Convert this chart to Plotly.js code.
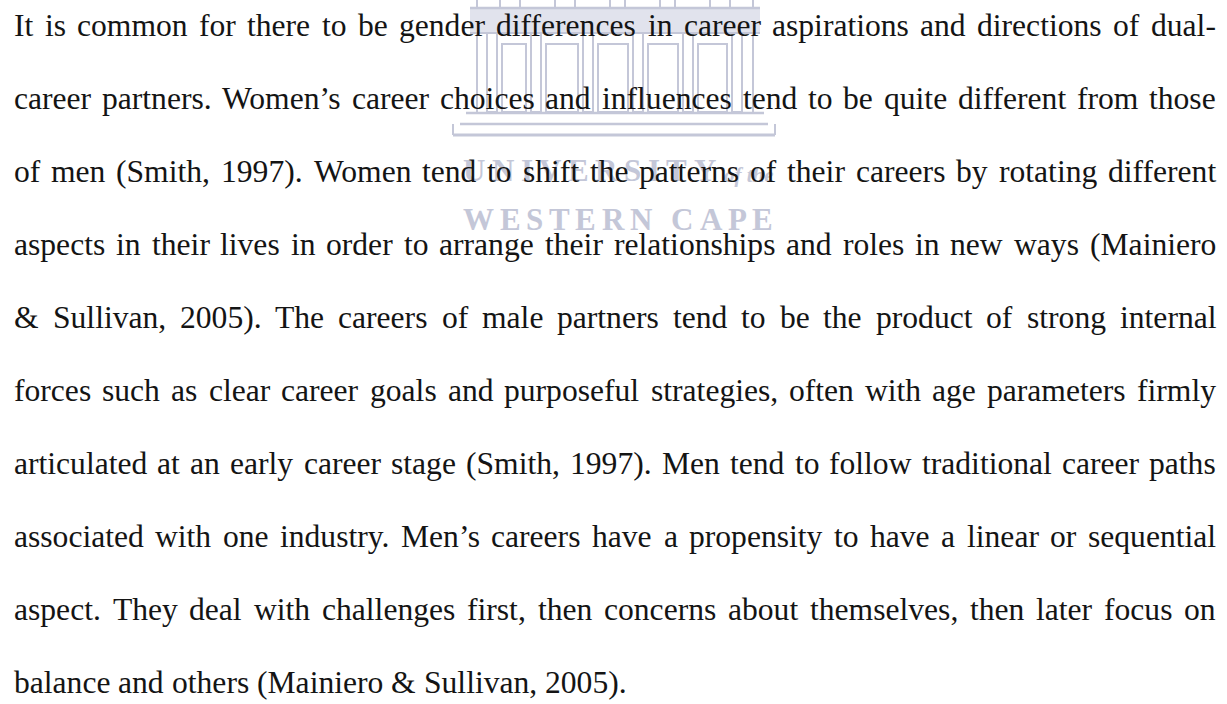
<!DOCTYPE html>
<html>
<head>
<meta charset="utf-8">
<script src="https://cdn.plot.ly/plotly-3.0.1.min.js"></script>
<style>html,body{margin:0;padding:0;background:#fff;}#chart{width:1227px;height:704px;}</style>
</head>
<body>
<div id="chart"></div>
<script>
// ---- content (text lines of the page) ----
const paragraphLines = [
  "It is common for there to be gender differences in career aspirations and directions of dual-",
  "career partners. Women’s career choices and influences tend to be quite different from those",
  "of men (Smith, 1997). Women tend to shift the patterns of their careers by rotating different",
  "aspects in their lives in order to arrange their relationships and roles in new ways (Mainiero",
  "& Sullivan, 2005). The careers of male partners tend to be the product of strong internal",
  "forces such as clear career goals and purposeful strategies, often with age parameters firmly",
  "articulated at an early career stage (Smith, 1997). Men tend to follow traditional career paths",
  "associated with one industry. Men’s careers have a propensity to have a linear or sequential",
  "aspect. They deal with challenges first, then concerns about themselves, then later focus on",
  "balance and others (Mainiero & Sullivan, 2005)."
];
const watermarkLine1 = "UNIVERSITY";
const watermarkLine1b = "of the";
const watermarkLine2 = "WESTERN CAPE";

// ---- style / layout constants ----
const W = 1227, H = 704;
const FONT = "Liberation Serif";
const FS = 31.6;
const LEFT = 14, RIGHT = 1216;
const FIRST_Y = 28, STEP = 73;
const TEXT_COLOR = "#141414";
const WM = "#c4c7d8";
const WM_FILL = "#e1e3ed";

const cv = document.createElement("canvas").getContext("2d");
function measure(t, size, style, weight) {
  cv.font = (style || "normal") + " " + (weight || "normal") + " " + size + "px '" + FONT + "'";
  return cv.measureText(t).width;
}
function esc(t) { return t.replace(/&/g, "&amp;"); }

const annotations = [];
const shapes = [];

// ---- watermark text (letter-spaced) ----
function spaced(text, x0, x1, yc, size) {
  const chars = text.split("");
  const widths = chars.map(c => measure(c, size, "normal", "bold"));
  const total = widths.reduce((a, b) => a + b, 0);
  const gap = (x1 - x0 - total) / (chars.length - 1);
  let x = x0;
  chars.forEach((c, i) => {
    if (c !== " ") {
      annotations.push({
        x: x, y: yc, xref: "x", yref: "y", xanchor: "left", yanchor: "middle",
        text: c, showarrow: false, borderpad: 0, borderwidth: 0,
        font: {family: FONT, size: size, color: WM, weight: "bold"}
      });
    }
    x += widths[i] + gap;
  });
}
spaced(watermarkLine1, 463, 716, 170, 31);
annotations.push({
  x: 724, y: 175, xref: "x", yref: "y", xanchor: "left", yanchor: "middle",
  text: watermarkLine1b, showarrow: false, borderpad: 0, borderwidth: 0,
  font: {family: FONT, size: 21, color: WM, style: "italic", weight: "bold"}
});
spaced(watermarkLine2, 463, 773, 219, 31);

// ---- watermark building ----
const line = {color: WM, width: 2};
function rect(x0, y0, x1, y1, fill) {
  shapes.push({type: "rect", xref: "x", yref: "y", x0, y0, x1, y1,
    line: fill ? {width: 0} : line, fillcolor: fill || "rgba(0,0,0,0)", layer: "below"});
}
function seg(x0, y0, x1, y1, w) {
  shapes.push({type: "line", xref: "x", yref: "y", x0, y0, x1, y1,
    line: {color: WM, width: w || 2}, layer: "below"});
}
// attic
rect(477, -2, 753, 8);
[500, 520, 555, 575, 610, 625, 660, 675, 710, 730].forEach(x => seg(x, -2, x, 8, 2));
// entablature band
rect(470, 8, 760, 33, WM_FILL);
seg(470, 8, 760, 8, 2.5);
seg(470, 33, 760, 33, 2);
// outer walls
seg(477, 33, 477, 112, 2);
seg(753, 33, 753, 112, 2);
// columns
[487, 531, 583, 633, 683, 732].forEach(x => { rect(x, 33, x + 10, 112); });
// doors
[[497, 531], [541, 583], [593, 633], [643, 683], [693, 732]].forEach(([a, b]) => {
  rect(a + 5, 44, b - 5, 112);
});
// steps
seg(466, 113, 764, 113, 2.5);
seg(460, 124, 768, 124, 2.5);
seg(453, 135, 775, 135, 3);
seg(453, 124, 453, 135, 2);
seg(775, 124, 775, 135, 2);

// ---- justified paragraph text ----
paragraphLines.forEach((ln, i) => {
  const yc = FIRST_Y + STEP * i - 3;
  const words = ln.split(" ");
  const widths = words.map(w => measure(w, FS));
  const total = widths.reduce((a, b) => a + b, 0);
  const last = i === paragraphLines.length - 1;
  const gap = last ? measure(" ", FS) : (RIGHT - LEFT - total) / (words.length - 1);
  let x = LEFT;
  words.forEach((w, j) => {
    annotations.push({
      x: x, y: yc, xref: "x", yref: "y", xanchor: "left", yanchor: "middle",
      text: esc(w), showarrow: false, borderpad: 0, borderwidth: 0,
      font: {family: FONT, size: FS, color: TEXT_COLOR}
    });
    x += widths[j] + gap;
  });
});

const layout = {
  width: W, height: H,
  margin: {l: 0, r: 0, t: 0, b: 0, pad: 0},
  paper_bgcolor: "#ffffff", plot_bgcolor: "#ffffff",
  xaxis: {range: [0, W], visible: false, fixedrange: true},
  yaxis: {range: [H, 0], visible: false, fixedrange: true},
  showlegend: false,
  annotations: annotations,
  shapes: shapes
};
Plotly.newPlot("chart", [{x: [], y: [], type: "scatter", mode: "markers", hoverinfo: "skip"}], layout,
  {displayModeBar: false, staticPlot: true});
</script>
</body>
</html>
